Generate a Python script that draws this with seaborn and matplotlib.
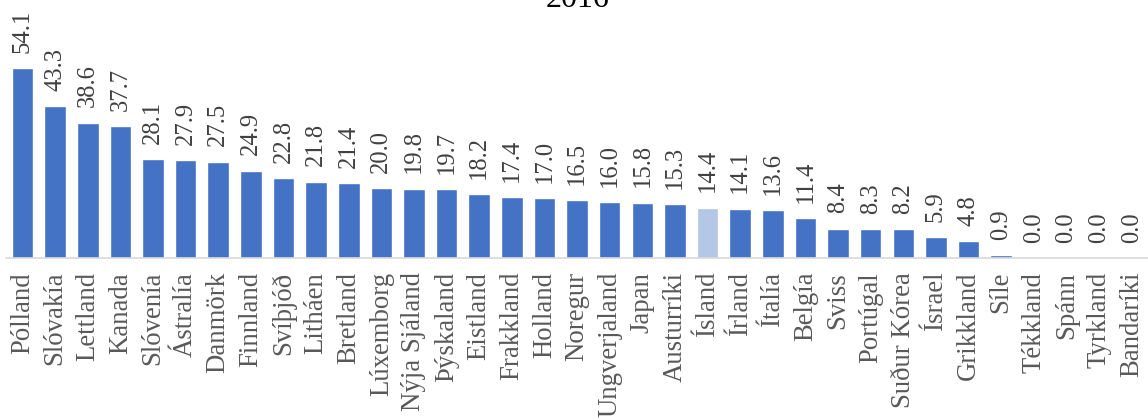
import matplotlib
matplotlib.use("Agg")
import matplotlib.pyplot as plt
import seaborn as sns
import pandas as pd

# Données 2016
countries = ["Pólland", "Slóvakía", "Lettland", "Kanada", "Slóvenía", "Ástralía",
             "Danmörk", "Finnland", "Svíþjóð", "Litháen", "Bretland", "Lúxemborg",
             "Nýja Sjáland", "Þýskaland", "Eistland", "Frakkland", "Holland",
             "Noregur", "Ungverjaland", "Japan", "Austurríki", "Ísland", "Írland",
             "Ítalía", "Belgía", "Sviss", "Portúgal", "Suður Kórea", "Ísrael",
             "Grikkland", "Síle", "Tékkland", "Spánn", "Tyrkland", "Bandaríki"]
values = [54.1, 43.3, 38.6, 37.7, 28.1, 27.9, 27.5, 24.9, 22.8, 21.8, 21.4, 20.0,
          19.8, 19.7, 18.2, 17.4, 17.0, 16.5, 16.0, 15.8, 15.3, 14.4, 14.1, 13.6,
          11.4, 8.4, 8.3, 8.2, 5.9, 4.8, 0.9, 0.0, 0.0, 0.0, 0.0]
highlight = "Ísland"

df = pd.DataFrame({"pays": countries, "valeur": values})
palette = {c: ("#B4C7E7" if c == highlight else "#4472C4") for c in countries}

sns.set_style("white")
plt.rcParams['font.family'] = ['Liberation Serif', 'DejaVu Serif']

fig = plt.figure(figsize=(11.48, 4.19), dpi=100)
ax = fig.add_axes([0.0054, 0.3842, 0.9946, 0.5022])

sns.barplot(data=df, x="pays", y="valeur", hue="pays", palette=palette,
            width=0.66, legend=False, ax=ax, saturation=1)

# étiquettes de valeurs verticales
for i, v in enumerate(values):
    ax.annotate(f"{v:.1f}", (i, v), xytext=(0, 11), textcoords="offset points",
                rotation=90, ha="center", va="bottom", fontsize=17.7, color="#404040")

ax.set_ylim(0, 60)
ax.set_xlim(-0.5, len(countries) - 0.5)
ax.set_xlabel("")
ax.set_ylabel("")
ax.set_yticks([])
ax.tick_params(axis="x", length=0, pad=10, labelsize=19.3, labelcolor="#595959")
plt.setp(ax.get_xticklabels(), rotation=90)
for s in ["top", "left", "right"]:
    ax.spines[s].set_visible(False)
ax.spines["bottom"].set_color("#D9D9D9")
ax.spines["bottom"].set_linewidth(1.2)

fig.text(0.5035, 0.983, "2016", ha="center", va="baseline", fontsize=23, color="black")

fig.savefig("out.png", dpi=100)
